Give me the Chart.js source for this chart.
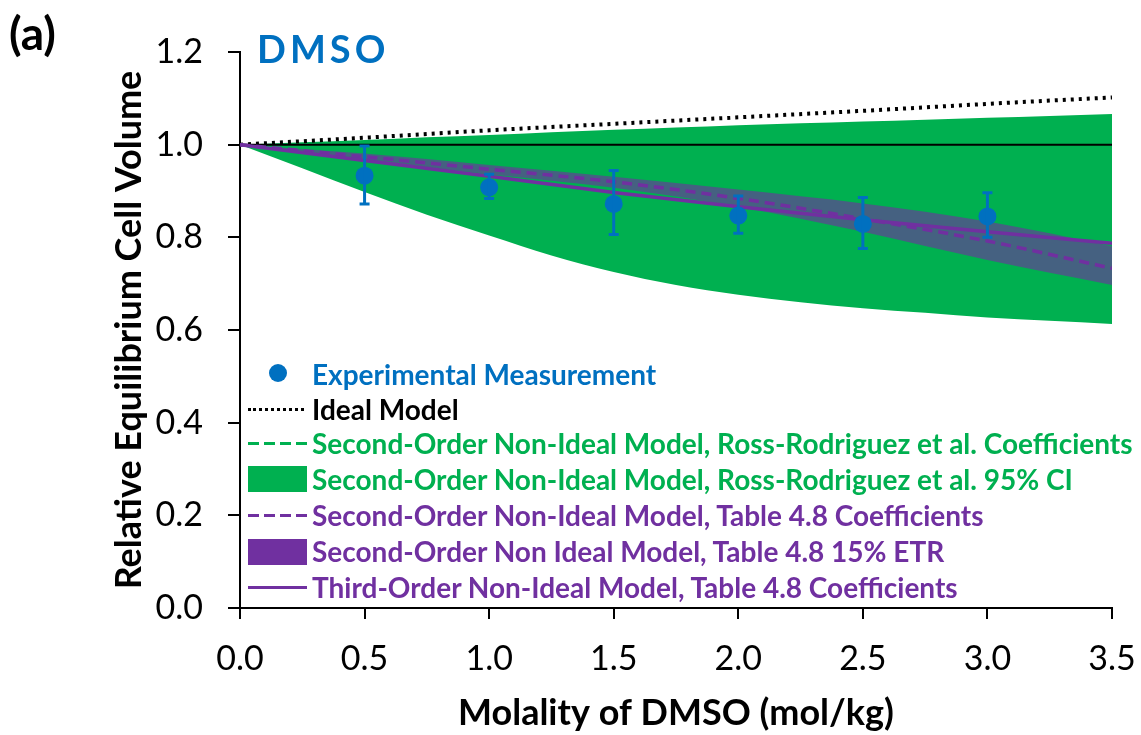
<!DOCTYPE html>
<html>
<head>
<meta charset="utf-8">
<script src="https://cdn.jsdelivr.net/npm/chart.js@4"></script>
<style>
  body { margin: 0; background: #fff; }
  #wrap { position: relative; width: 1141px; height: 735px; font-family: Lato, sans-serif; }
  .txt { position: absolute; white-space: nowrap; font-weight: bold; line-height: 1; }
  .leg { position: absolute; left: 312px; white-space: nowrap; font-weight: bold; font-size: 28px; line-height: 1; transform: translateY(-50%); }
  .sw { position: absolute; }
</style>
</head>
<body>
<div id="wrap">
  <canvas id="chart" width="1141" height="735"></canvas>
  <div class="txt" style="left:9px; top:10px; font-size:46px; color:#000;">(a)</div>
  <div class="txt" style="left:257px; top:29px; font-size:38px; letter-spacing:4px; color:#0070C0;">DMSO</div>

  <!-- leyenda dentro del área del gráfico -->
  <div class="sw" style="left:269px; top:364px; width:18px; height:18px; border-radius:50%; background:#0070C0;"></div>
  <div class="leg" style="top:374px; color:#0070C0;">Experimental Measurement</div>

  <div class="sw" style="left:248px; top:408px; width:56px; border-top:3px dotted #000;"></div>
  <div class="leg" style="top:409px; color:#000;">Ideal Model</div>

  <div class="sw" style="left:248px; top:442px; width:60px; height:3px; background:repeating-linear-gradient(90deg,#00B050 0 11px,transparent 11px 16px);"></div>
  <div class="leg" style="top:443px; color:#00B050;">Second-Order Non-Ideal Model, Ross-Rodriguez et al. Coefficients</div>

  <div class="sw" style="left:248px; top:466px; width:59px; height:26px; background:#00B050;"></div>
  <div class="leg" style="top:479px; color:#00B050;">Second-Order Non-Ideal Model, Ross-Rodriguez et al. 95% CI</div>

  <div class="sw" style="left:248px; top:514px; width:60px; height:3px; background:repeating-linear-gradient(90deg,#7030A0 0 11px,transparent 11px 16px);"></div>
  <div class="leg" style="top:515px; color:#7030A0;">Second-Order Non-Ideal Model, Table 4.8 Coefficients</div>

  <div class="sw" style="left:248px; top:539px; width:59px; height:26px; background:#7030A0;"></div>
  <div class="leg" style="top:551px; color:#7030A0;">Second-Order Non Ideal Model, Table 4.8 15% ETR</div>

  <div class="sw" style="left:248px; top:586px; width:59px; height:3px; background:#7030A0;"></div>
  <div class="leg" style="top:587px; color:#7030A0;">Third-Order Non-Ideal Model, Table 4.8 Coefficients</div>
</div>
<script>
// Datos
const molality = [0, 0.5, 1.0, 1.5, 2.0, 2.5, 3.0, 3.5];
const idealModel = [1.0, 1.015, 1.031, 1.045, 1.059, 1.073, 1.088, 1.102];
const unityLine = [1.0, 1.0, 1.0, 1.0, 1.0, 1.0, 1.0, 1.0];

// banda 95% CI (Ross-Rodriguez)
const ciMolality = [0, 0.25, 0.5, 0.75, 1.0, 1.25, 1.5, 1.75, 2.0, 2.25, 2.5, 2.75, 3.0, 3.25, 3.5];
const ciLow = [1.0, 0.949, 0.898, 0.849, 0.804, 0.761, 0.725, 0.697, 0.676, 0.660, 0.647, 0.637, 0.627, 0.620, 0.613];
const ciHigh = [1.0, 1.005, 1.010, 1.016, 1.021, 1.027, 1.032, 1.037, 1.042, 1.046, 1.050, 1.054, 1.058, 1.062, 1.066];

// Table 4.8
const etrLow = [1.0, 0.968, 0.936, 0.907, 0.866, 0.812, 0.751, 0.697];
const etrHigh = [1.0, 0.981, 0.956, 0.931, 0.903, 0.873, 0.834, 0.781];
const secondOrder = [1.0, 0.974, 0.947, 0.920, 0.884, 0.840, 0.792, 0.733];
const thirdOrder = [1.0, 0.966, 0.932, 0.897, 0.866, 0.838, 0.812, 0.787];

// medidas experimentales
const expMolality = [0.5, 1.0, 1.5, 2.0, 2.5, 3.0];
const expVolume = [0.933, 0.908, 0.872, 0.847, 0.829, 0.845];
const errHigh = [0.997, 0.936, 0.944, 0.889, 0.886, 0.896];
const errLow = [0.872, 0.884, 0.806, 0.809, 0.776, 0.800];

const BLUE = '#0070C0';
const GREEN = '#00B050';
const PURPLE = '#7030A0';

const pts = (xs, ys) => xs.map((x, i) => ({ x: x, y: ys[i] }));

const line = (data, color, extra) => Object.assign({
  data: data,
  borderColor: color,
  backgroundColor: color,
  borderWidth: 3.5,
  pointRadius: 0,
  fill: false,
  cubicInterpolationMode: 'monotone'
}, extra);

// barras de error con las escalas del gráfico
const errorBars = {
  id: 'errorBars',
  afterDatasetsDraw(chart) {
    const { ctx, scales: { x, y } } = chart;
    ctx.save();
    ctx.strokeStyle = BLUE;
    ctx.lineWidth = 3;
    expMolality.forEach((m, i) => {
      const px = x.getPixelForValue(m);
      const top = y.getPixelForValue(errHigh[i]);
      const bot = y.getPixelForValue(errLow[i]);
      ctx.beginPath();
      ctx.moveTo(px, top); ctx.lineTo(px, bot);
      ctx.moveTo(px - 5, top); ctx.lineTo(px + 5, top);
      ctx.moveTo(px - 5, bot); ctx.lineTo(px + 5, bot);
      ctx.stroke();
    });
    ctx.restore();
  }
};

const tickFont = { family: 'Lato', size: 34 };
const titleFont = { family: 'Lato', size: 36, weight: 'bold' };

new Chart(document.getElementById('chart'), {
  type: 'line',
  data: {
    datasets: [
      line(pts(ciMolality, ciLow), GREEN, { borderWidth: 0, order: 11 }),
      line(pts(ciMolality, ciHigh), GREEN, { borderWidth: 0, fill: '-1', backgroundColor: GREEN, order: 10 }),
      line(pts(molality, etrLow), PURPLE, { borderWidth: 0, order: 9 }),
      line(pts(molality, etrHigh), PURPLE, { borderWidth: 0, fill: '-1', backgroundColor: 'rgba(112,48,160,0.62)', order: 8 }),
      line(pts(molality, unityLine), '#000', { borderWidth: 2, order: 7 }),
      line(pts(molality, idealModel), '#000', { borderDash: [3, 5], borderWidth: 4, order: 6 }),
      line(pts(molality, secondOrder), PURPLE, { borderDash: [10, 6], order: 5 }),
      line(pts(molality, thirdOrder), PURPLE, { order: 4 }),
      {
        data: pts(expMolality, expVolume),
        showLine: false,
        pointRadius: 9,
        pointBackgroundColor: BLUE,
        pointBorderWidth: 0,
        borderColor: BLUE,
        order: 1
      }
    ]
  },
  options: {
    responsive: false,
    animation: false,
    layout: { padding: { left: 0, top: 52, right: 29, bottom: 0 } },
    plugins: { legend: { display: false }, tooltip: { enabled: false } },
    scales: {
      x: {
        type: 'linear',
        min: 0, max: 3.5,
        afterFit: s => { s.height = 127; s.paddingLeft = 0; s.paddingRight = 0; },
        ticks: { stepSize: 0.5, maxRotation: 0, padding: 20, color: '#000', font: tickFont,
          callback: v => v.toFixed(1) },
        grid: { drawOnChartArea: false, tickLength: 11, lineWidth: 2, color: '#000' },
        border: { color: '#000', width: 2 },
        title: { display: true, text: 'Molality of DMSO (mol/kg)', color: '#000', font: titleFont,
          padding: { top: 14, bottom: 0 } }
      },
      y: {
        min: 0, max: 1.2,
        afterFit: s => { s.width = 240; s.paddingTop = 0; s.paddingBottom = 0; },
        ticks: { stepSize: 0.2, padding: 25, color: '#000', font: tickFont,
          callback: v => v.toFixed(1) },
        grid: { drawOnChartArea: false, tickLength: 12, lineWidth: 2, color: '#000' },
        border: { color: '#000', width: 2 },
        title: { display: true, text: 'Relative Equilibrium Cell Volume', color: '#000', font: titleFont,
          padding: { top: 108, bottom: 0 } }
      }
    }
  },
  plugins: [errorBars]
});
</script>
</body>
</html>
